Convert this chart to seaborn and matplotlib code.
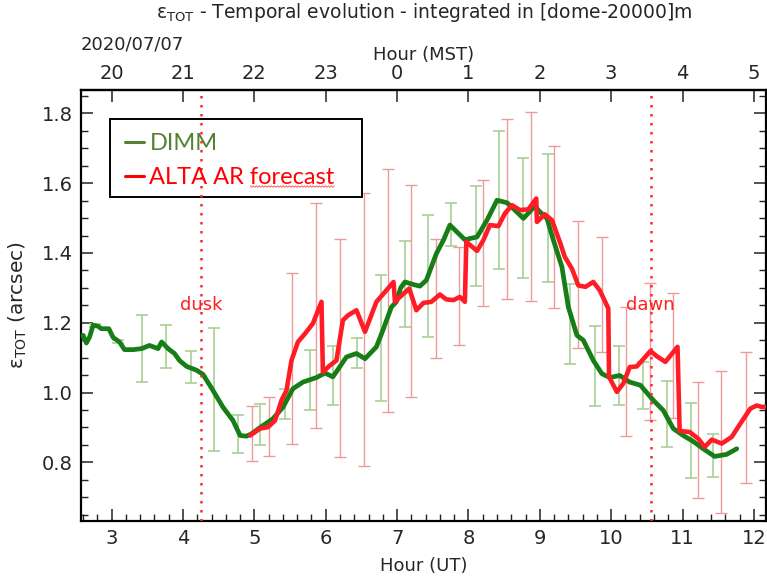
import numpy as np
import pandas as pd
import matplotlib
matplotlib.use("Agg")
import matplotlib.pyplot as plt
from matplotlib.lines import Line2D
from matplotlib.patches import Rectangle
from matplotlib.transforms import IdentityTransform
from matplotlib.ticker import MultipleLocator
import seaborn as sns

# ---------------- data ----------------
dimm_hour = [2.55, 2.60, 2.645, 2.69, 2.74, 2.81, 2.855, 2.96, 3.02, 3.11, 3.18, 3.30,
             3.42, 3.53, 3.65, 3.70, 3.79, 3.88, 3.95, 4.05, 4.19, 4.28, 4.42, 4.56,
             4.70, 4.80, 4.89, 4.96, 5.08, 5.26, 5.40, 5.54, 5.68, 5.87, 5.99, 6.10,
             6.29, 6.43, 6.55, 6.71, 6.80, 6.92, 6.99, 7.05, 7.11, 7.22, 7.32, 7.41,
             7.55, 7.65, 7.74, 7.86, 7.95, 8.12, 8.26, 8.40, 8.54, 8.65, 8.77, 8.93,
             9.00, 9.10, 9.19, 9.31, 9.40, 9.52, 9.61, 9.75, 9.87, 9.98, 10.12, 10.26,
             10.41, 10.59, 10.73, 10.87, 11.01, 11.15, 11.29, 11.45, 11.62, 11.76]
dimm_seeing = [1.161, 1.164, 1.142, 1.159, 1.193, 1.190, 1.183, 1.183, 1.158, 1.145, 1.123, 1.123,
               1.126, 1.135, 1.126, 1.145, 1.126, 1.112, 1.092, 1.075, 1.064, 1.052, 1.006, 0.958,
               0.920, 0.877, 0.875, 0.882, 0.900, 0.925, 0.958, 1.011, 1.030, 1.043, 1.056, 1.045,
               1.102, 1.112, 1.097, 1.131, 1.178, 1.245, 1.260, 1.300, 1.317, 1.310, 1.305, 1.322,
               1.398, 1.437, 1.480, 1.456, 1.438, 1.446, 1.494, 1.551, 1.544, 1.523, 1.499, 1.534,
               1.518, 1.499, 1.437, 1.360, 1.245, 1.164, 1.150, 1.092, 1.054, 1.043, 1.049, 1.030,
               1.021, 0.978, 0.949, 0.897, 0.877, 0.860, 0.839, 0.817, 0.823, 0.839]

alta_hour = [4.94, 5.08, 5.19, 5.29, 5.38, 5.45, 5.52, 5.61, 5.71, 5.82, 5.94, 5.96,
             6.06, 6.15, 6.24, 6.31, 6.43, 6.55, 6.71, 6.85, 6.95, 6.97, 7.04, 7.17,
             7.27, 7.37, 7.48, 7.60, 7.69, 7.79, 7.88, 7.95, 7.97, 8.12, 8.21, 8.30,
             8.42, 8.51, 8.61, 8.72, 8.84, 8.95, 8.96, 9.07, 9.17, 9.28, 9.35, 9.45,
             9.54, 9.64, 9.75, 9.84, 9.96, 9.97, 10.08, 10.17, 10.26, 10.36, 10.55, 10.64,
             10.76, 10.93, 10.96, 11.10, 11.22, 11.31, 11.41, 11.55, 11.69, 11.81, 11.95, 12.04,
             12.11, 12.18]
alta_seeing = [0.877, 0.897, 0.901, 0.920, 0.978, 1.006, 1.092, 1.145, 1.169, 1.198, 1.260, 1.059,
               1.078, 1.092, 1.207, 1.221, 1.236, 1.174, 1.260, 1.293, 1.317, 1.260, 1.274, 1.298,
               1.236, 1.257, 1.260, 1.281, 1.267, 1.265, 1.274, 1.260, 1.432, 1.406, 1.437, 1.480,
               1.477, 1.513, 1.537, 1.523, 1.525, 1.556, 1.489, 1.511, 1.494, 1.432, 1.389, 1.355,
               1.307, 1.303, 1.317, 1.293, 1.241, 1.045, 1.002, 1.026, 1.073, 1.075, 1.119, 1.104,
               1.088, 1.131, 0.890, 0.887, 0.868, 0.844, 0.865, 0.854, 0.873, 0.911, 0.954, 0.963,
               0.959, 0.959]

dimm_err_hour = [2.76, 3.09, 3.425, 3.767, 4.108, 4.435, 4.77, 5.08, 5.43, 5.78, 6.10, 6.44,
                 6.77, 7.11, 7.44, 7.76, 8.105, 8.43, 8.77, 9.11, 9.43, 9.77, 10.11, 10.44,
                 10.78, 11.12, 11.43]
dimm_err_low = [1.187, 1.141, 1.030, 1.069, 1.026, 0.832, 0.828, 0.850, 0.925, 0.949, 0.963, 1.069,
                0.976, 1.189, 1.158, 1.419, 1.305, 1.355, 1.327, 1.317, 1.083, 0.961, 0.963, 0.954,
                0.844, 0.755, 0.758]
dimm_err_high = [1.196, 1.150, 1.221, 1.193, 1.119, 1.186, 0.937, 0.967, 1.011, 1.121, 1.133, 1.156,
                 1.336, 1.435, 1.510, 1.542, 1.591, 1.750, 1.671, 1.685, 1.312, 1.191, 1.133, 1.088,
                 1.033, 0.969, 0.880]

alta_err_hour = [4.97, 5.20, 5.53, 5.87, 6.20, 6.54, 6.87, 7.20, 7.54, 7.87, 8.21, 8.54,
                 8.88, 9.20, 9.54, 9.87, 10.21, 10.55, 10.87, 11.21, 11.54, 11.89]
alta_err_low = [0.803, 0.818, 0.852, 0.898, 0.815, 0.791, 0.943, 0.988, 1.100, 1.135, 1.247, 1.267,
                1.263, 1.241, 1.129, 1.116, 0.875, 0.922, 0.927, 0.699, 0.656, 0.742]
alta_err_high = [0.961, 0.987, 1.343, 1.544, 1.441, 1.573, 1.642, 1.594, 1.441, 1.416, 1.610, 1.783,
                 1.805, 1.707, 1.492, 1.446, 1.245, 1.314, 1.284, 1.030, 1.061, 1.116]

mst_ticks_ut = [3, 4, 5, 6, 7, 8, 9, 10, 11, 12]
mst_labels = ["20", "21", "22", "23", "0", "1", "2", "3", "4", "5"]

dusk_hour = 4.25
dawn_hour = 10.555
twilight_labels = ["dusk", "dawn"]
twilight_label_y = 1.25

series_names = ["DIMM", "ALTA AR forecast"]
date_label = "2020/07/07"

# ---------------- style ----------------
sns.set_style("ticks")
plt.rcParams["font.family"] = ["DejaVu Sans"]
plt.rcParams["mathtext.fontset"] = "dejavusans"

LINE_GREEN = "#177d17"
LINE_RED = "#ff1c26"
ERR_GREEN = "#a9cf96"
ERR_RED = "#ef9a9a"
LEG_GREEN = "#548235"
LEG_RED = "#ff0000"

fig = plt.figure(figsize=(7.67, 5.79), dpi=100)
ax = fig.add_axes([81 / 767, 1 - 521 / 579, (766 - 81) / 767, (521 - 90) / 579])

dimm_df = pd.DataFrame({"hour": dimm_hour, "seeing": dimm_seeing})
alta_df = pd.DataFrame({"hour": alta_hour, "seeing": alta_seeing})

# error bars
d_mid = (np.array(dimm_err_low) + np.array(dimm_err_high)) / 2
ax.errorbar(dimm_err_hour, d_mid,
            yerr=[d_mid - np.array(dimm_err_low), np.array(dimm_err_high) - d_mid],
            fmt="none", ecolor=ERR_GREEN, elinewidth=1.2, capsize=4.5, capthick=1.2, zorder=2)
a_mid = (np.array(alta_err_low) + np.array(alta_err_high)) / 2
ax.errorbar(alta_err_hour, a_mid,
            yerr=[a_mid - np.array(alta_err_low), np.array(alta_err_high) - a_mid],
            fmt="none", ecolor=ERR_RED, elinewidth=1.0, capsize=4.5, capthick=1.0, zorder=2)

sns.lineplot(data=alta_df, x="hour", y="seeing", ax=ax, color=LINE_RED, lw=3.3,
             estimator=None, sort=False, zorder=4)
sns.lineplot(data=dimm_df, x="hour", y="seeing", ax=ax, color=LINE_GREEN, lw=3.4,
             estimator=None, sort=False, zorder=3)

# dusk / dawn
for xv, lab in zip([dusk_hour, dawn_hour], twilight_labels):
    ax.axvline(xv, color="#ff2a2a", lw=1.8, ls=(0, (1, 2.6)), zorder=6)
    ax.text(xv, twilight_label_y, lab, color="#ff2020", fontsize=13,
            ha="center", va="center", zorder=7)

ax.set_xlim(2.57, 12.17)
ax.set_ylim(0.632, 1.867)

ax.xaxis.set_major_locator(MultipleLocator(1))
ax.xaxis.set_minor_locator(MultipleLocator(0.2))
ax.yaxis.set_major_locator(MultipleLocator(0.2))
ax.yaxis.set_minor_locator(MultipleLocator(0.05))
ax.tick_params(which="both", direction="in", top=False, right=True, color="#222222")
ax.tick_params(which="major", length=8.5, width=1.1, labelsize=14, pad=6)
ax.tick_params(which="minor", length=5, width=1.0)
ax.set_yticks([0.8, 1.0, 1.2, 1.4, 1.6, 1.8])
ax.set_yticklabels(["0.8", "1.0", "1.2", "1.4", "1.6", "1.8"])

for sp in ax.spines.values():
    sp.set_linewidth(1.6)
    sp.set_color("black")

ax.set_xlabel("Hour (UT)", fontsize=13, labelpad=6)
ax.set_ylabel("ε$_{\\mathrm{TOT}}$ (arcsec)", fontsize=14.5, labelpad=9)

top = ax.secondary_xaxis("top")
top.set_xticks(mst_ticks_ut)
top.set_xticklabels(mst_labels)
top.tick_params(direction="in", length=8.5, width=1.1, labelsize=14, pad=5, color="#222222")
top.set_xlabel("Hour (MST)", fontsize=13, labelpad=3)
top.spines["top"].set_linewidth(1.6)

ax.text(0.0, 1.106, date_label, transform=ax.transAxes, fontsize=13, ha="left", va="center")

fig.text(424 / 767, 1 - 13 / 579,
         "ε$_{\\mathrm{TOT}}$ - Temporal evolution - integrated in [dome-20000]m",
         ha="center", va="center", fontsize=13.5)

# legend: box drawn separately (wider than the entries, as in the reference)
box = Rectangle((0.043, 0.752), 0.41 - 0.043, 0.933 - 0.752, transform=ax.transAxes,
                facecolor="white", edgecolor="black", lw=1.4, zorder=5)
ax.add_patch(box)
handles = [Line2D([], [], color=LEG_GREEN, lw=2.2), Line2D([], [], color=LEG_RED, lw=2.2)]
leg = ax.legend(handles, series_names, loc="upper left", bbox_to_anchor=(0.043, 0.933),
                frameon=False, prop={"family": "Lato", "size": 17}, handlelength=0.8,
                handletextpad=0.25, borderpad=0.6, labelspacing=0.55, borderaxespad=0)
leg.set_zorder(6)
for t, c in zip(leg.get_texts(), [LEG_GREEN, LEG_RED]):
    t.set_color(c)

# spell-check style wavy underline under "forecast"
fig.canvas.draw()
renderer = fig.canvas.get_renderer()
txt = leg.get_texts()[1]
bb = txt.get_window_extent(renderer)
probe = fig.text(0, 0, "forecast", fontfamily="Lato", fontsize=17)
wf = probe.get_window_extent(renderer).width
probe.remove()
x0, x1 = bb.x1 - wf, bb.x1
xs = np.arange(x0, x1 + 0.1, 1.5)
ys = bb.y0 + 1.5 + np.where(np.arange(len(xs)) % 2 == 0, 0.8, -0.8)
fig.add_artist(Line2D(xs, ys, transform=IdentityTransform(), color="#ff4d4d", lw=0.6, zorder=10))

fig.savefig("out.png", dpi=100)
